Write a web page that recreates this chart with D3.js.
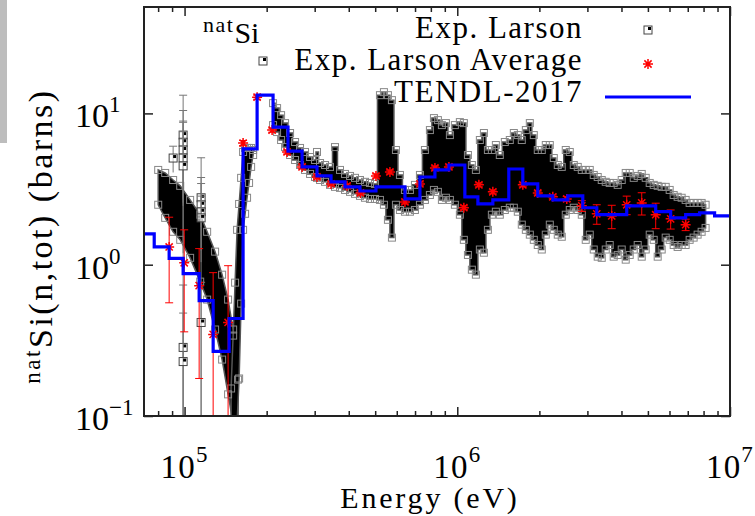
<!DOCTYPE html>
<html>
<head>
<meta charset="utf-8">
<script src="https://cdn.jsdelivr.net/npm/d3@7"></script>
<style>
body { margin: 0; background: #fff; }
svg { display: block; }
</style>
</head>
<body>
<svg width="755" height="516" font-family="'Liberation Serif', 'DejaVu Serif', serif"></svg>
<script>
// axis ticks
var xMajor = [1e5, 1e6, 1e7];
var xMinor = [8e4, 9e4, 2e5, 3e5, 4e5, 5e5, 6e5, 7e5, 8e5, 9e5, 2e6, 3e6, 4e6, 5e6, 6e6, 7e6, 8e6, 9e6];
var xExp = ["5", "6", "7"];
var yMajor = [0.1, 1, 10];
var yExp = ["\u22121", "0", "1"];

// Exp. Larson, low energy falling branch (energy eV, min / max barns)
var larsonAE = [80050, 84900, 90800, 96400, 104800, 114100, 121000, 129400, 137300, 144400, 150700, 157100];
var larsonALo = [2.49, 2.04, 1.65, 1.46, 1.11, 0.773, 0.588, 0.373, 0.236, 0.139, 0.09, 0.09];
var larsonAHi = [4.23, 4.04, 3.63, 3.32, 2.68, 2.14, 1.65, 1.22, 0.859, 0.588, 0.373, 0.174];

// Exp. Larson, rising edge of the big resonance
var larsonBE = [148100, 150700, 153200, 155800, 158500, 161200, 163900, 166700, 169500, 172400, 175400, 178400];
var larsonBLo = [0.09, 0.09, 0.09, 0.09, 0.177, 0.553, 1.70, 2.17, 2.77, 3.47, 4.43, 5.31];
var larsonBHi = [0.152, 0.340, 0.761, 1.70, 2.52, 3.75, 5.56, 5.91, 5.91, 5.91, 5.91, 5.73];

// Exp. Larson, resonance region above 200 keV
var larsonCE = [211100, 218400, 225900, 233600, 243700, 254200, 265100, 276500, 288500, 300900, 305900, 313900,
  327300, 341400, 356100, 371500, 387600, 404300, 421700, 439700, 458600, 478400, 499000, 520500,
  538300, 556800, 575900, 595700, 616200, 642800, 670500, 699300, 729500, 760900, 793600, 821000,
  849000, 878200, 908300, 939500, 979900, 1022000, 1057000, 1094000, 1131000, 1170000, 1210000, 1252000,
  1295000, 1339000, 1385000, 1432000, 1494000, 1558000, 1612000, 1667000, 1724000, 1784000, 1845000, 1908000,
  1973000, 2041000, 2111000, 2184000, 2259000, 2336000, 2416000, 2499000, 2585000, 2674000, 2765000, 2861000,
  2958000, 3060000, 3165000, 3273000, 3386000, 3502000, 3622000, 3746000, 3875000, 4008000, 4146000, 4288000,
  4436000, 4587000, 4746000, 4908000, 5077000, 5251000, 5431000, 5617000, 5810000, 6009000, 6216000, 6427000,
  6648000, 6876000, 7112000, 7356000, 7608000, 7870000, 8138000];
var larsonCLo = [8.37, 7.53, 6.67, 5.99, 5.31, 4.92, 4.56, 4.23, 3.98, 3.80, 3.75, 3.63,
  3.53, 3.37, 3.27, 3.22, 3.12, 3.03, 2.94, 2.85, 2.77, 2.72, 2.72, 2.68,
  2.49, 1.98, 1.51, 2.49, 2.30, 2.24, 2.24, 2.30, 2.49, 2.68, 2.89, 3.12,
  3.03, 2.68, 2.77, 2.68, 2.49, 2.14, 1.46, 1.16, 0.927, 0.859, 1.26, 1.20,
  1.70, 2.14, 2.24, 2.14, 2.30, 2.38, 2.38, 2.24, 1.84, 1.70, 1.58, 1.46,
  1.35, 1.26, 1.58, 1.84, 1.70, 1.58, 1.53, 2.14, 2.30, 2.38, 2.30, 2.14,
  1.46, 1.58, 1.26, 1.13, 1.11, 1.26, 1.35, 1.13, 1.16, 1.26, 1.08, 1.16,
  1.26, 1.35, 1.13, 1.26, 1.58, 1.46, 1.13, 1.26, 1.51, 1.46, 1.35, 1.31,
  1.35, 1.35, 1.46, 1.51, 1.58, 1.65, 1.75];
var larsonCHi = [11.69, 10.84, 9.74, 8.63, 7.42, 6.47, 5.91, 5.56, 5.15, 4.92, 5.56, 4.70,
  4.56, 4.43, 5.99, 4.23, 3.98, 3.86, 3.75, 3.63, 3.53, 3.47, 3.42, 13.20,
  13.82, 13.20, 12.24, 5.73, 3.92, 3.12, 3.12, 3.37, 3.92, 5.73, 7.76, 9.31,
  9.03, 8.37, 8.63, 7.19, 8.37, 8.76, 8.63, 5.31, 4.56, 4.23, 6.67, 7.42,
  5.73, 5.73, 6.18, 5.31, 6.47, 6.67, 7.42, 7.19, 6.67, 7.76, 8.63, 7.19,
  5.73, 5.73, 6.18, 6.18, 5.07, 4.56, 4.43, 5.73, 5.56, 4.56, 4.43, 4.23,
  4.23, 4.23, 3.92, 3.80, 3.63, 3.53, 3.47, 3.47, 3.37, 3.63, 4.04, 4.04,
  3.75, 3.86, 3.98, 3.75, 3.47, 3.37, 3.32, 3.27, 3.27, 3.12, 2.89, 2.81,
  2.77, 2.68, 2.56, 2.56, 2.56, 2.56, 2.49];

// Exp. Larson, isolated low energy points with their uncertainties
var scatterE = [98800, 98800, 98800, 98800, 98800, 98800, 98800, 90800, 115000, 115000, 115000, 115000, 115000];
var scatterV = [7.19, 6.45, 5.73, 5.07, 4.50, 0.284, 0.229, 5.07, 2.77, 2.49, 2.24, 2.04, 0.415];
var scatterErr = [6.0, 4.0, 3.0, 2.5, 4.4, 0.45, 0.25, 1.0, 1.0, 2.6, 1.2, 0.8, 0.35];

// Exp. Larson Average
var avgE = [87800, 99700, 113100, 127300, 144400, 163900, 184500, 209400, 237600, 269700, 305900, 344400,
  394100, 441500, 503300, 566300, 642800, 729500, 828000, 931700, 1057000, 1200000, 1350000, 1739000,
  1973000, 2240000, 2520000, 2861000, 3247000, 3684000, 4181000, 4746000, 5340000, 6059000, 6877000];
var avgV = [1.31, 1.03, 0.727, 0.346, 0.415, 6.37, 12.8, 7.76, 5.56, 4.43, 3.80, 3.42,
  3.32, 2.98, 3.86, 4.10, 2.60, 3.42, 4.36, 4.43, 2.38, 3.37, 3.03, 3.37,
  2.98, 2.81, 2.72, 2.45, 2.17, 2.10, 2.49, 2.56, 2.14, 2.01, 1.84];
var avgErr = [0.75, 0.67, 0.55, 0.54, 0.57, 0.25, 0.4, 0.25, 0.17, 0.13, 0.11, 0.10,
  0.10, 0.09, 0.12, 0.12, 0.08, 0.10, 0.13, 0.13, 0.07, 0.10, 0.09, 0.10,
  0.09, 0.08, 0.10, 0.2, 0.32, 0.37, 0.35, 0.43, 0.41, 0.29, 0.16];

// TENDL-2017 group values (bin start energy)
var tendlE = [70000, 77400, 87800, 98800, 113100, 127300, 145700, 163900, 184500, 211100, 239500, 269700,
  305900, 344400, 387600, 439700, 503300, 642800, 729500, 828000, 931700, 1066000, 1190000, 1350000,
  1545000, 1739000, 1973000, 2240000, 2542000, 2885000, 3247000, 4181000, 5340000, 6059000, 6877000,
  7737000, 8781000, 1e7];
var tendlV = [1.60, 1.31, 1.10, 0.872, 0.579, 0.267, 0.441, 5.82, 13.2, 8.12, 5.64, 4.43,
  3.86, 3.53, 3.27, 3.07, 3.27, 2.72, 3.80, 4.23, 4.56, 2.81, 2.52, 2.68,
  4.29, 3.42, 2.85, 2.68, 2.85, 2.38, 2.14, 2.45, 2.24, 2.04, 2.14,
  2.20, 2.10, 2.10];

var FONT = "Liberation Serif, DejaVu Serif, serif";

var svg = d3.select("svg"),
    margin = {top: 7, right: 25, bottom: 100, left: 144},
    w = +svg.attr("width") - margin.left - margin.right,
    h = +svg.attr("height") - margin.top - margin.bottom;

var xScale = d3.scaleLog().domain([7.1e4, 1e7]).range([0, w]),
    yScale = d3.scaleLog().domain([0.1, 50.5]).range([h, 0]);

// grey strip at the top left corner of the picture
svg.append("rect").attr("x", 0).attr("y", 0).attr("width", 7).attr("height", 143).attr("fill", "#bdbdbd");

var g = svg.append("g")
    .attr("transform", "translate(" + margin.left + "," + margin.top + ")");

g.append("clipPath").attr("id", "clip")
  .append("rect").attr("width", w).attr("height", h);

var plot = g.append("g").attr("clip-path", "url(#clip)");

function zip(es, los, his) {
  return es.map(function(e, i) { return {e: e, lo: los[i], hi: his[i]}; });
}
var segA = zip(larsonAE, larsonALo, larsonAHi),
    segB = zip(larsonBE, larsonBLo, larsonBHi),
    segC = zip(larsonCE, larsonCLo, larsonCHi);

var band = d3.area()
    .x(function(d) { return xScale(d.e); })
    .y0(function(d) { return yScale(d.lo); })
    .y1(function(d) { return yScale(d.hi); });

[[segA, d3.curveLinear], [segB, d3.curveLinear], [segC, d3.curveStep]].forEach(function(s) {
  plot.append("path")
    .datum(s[0])
    .attr("d", band.curve(s[1]))
    .attr("fill", "#000")
    .attr("stroke", "#555")
    .attr("stroke-width", 1.5);
});

// open squares where the data spread ends
var edges = [];
segA.concat(segB, segC).forEach(function(d) {
  edges.push({e: d.e, v: d.lo});
  edges.push({e: d.e, v: d.hi});
});
plot.selectAll(".edge")
  .data(edges)
  .enter().append("rect")
    .attr("class", "edge")
    .attr("x", function(d) { return xScale(d.e) - 3.5; })
    .attr("y", function(d) { return yScale(d.v) - 3.5; })
    .attr("width", 7)
    .attr("height", 7)
    .attr("fill", "none")
    .attr("stroke", "#888")
    .attr("stroke-width", 1);

// isolated points with error bars
var scatter = scatterE.map(function(e, i) { return {e: e, v: scatterV[i], err: scatterErr[i]}; });
var sc = plot.selectAll(".scat").data(scatter).enter().append("g").attr("class", "scat");
sc.append("line")
  .attr("x1", function(d) { return xScale(d.e); })
  .attr("x2", function(d) { return xScale(d.e); })
  .attr("y1", function(d) { return yScale(d.v + d.err); })
  .attr("y2", function(d) { return d.v - d.err > 0 ? yScale(d.v - d.err) : h + 5; })
  .attr("stroke", "#777").attr("stroke-width", 1);
sc.append("line")
  .attr("x1", function(d) { return xScale(d.e) - 4; })
  .attr("x2", function(d) { return xScale(d.e) + 4; })
  .attr("y1", function(d) { return yScale(d.v + d.err); })
  .attr("y2", function(d) { return yScale(d.v + d.err); })
  .attr("stroke", "#777").attr("stroke-width", 1);
sc.append("rect")
  .attr("x", function(d) { return xScale(d.e) - 4; })
  .attr("y", function(d) { return yScale(d.v) - 4; })
  .attr("width", 8).attr("height", 8)
  .attr("fill", "#fff").attr("fill-opacity", 0.6)
  .attr("stroke", "#444").attr("stroke-width", 1);
sc.append("rect")
  .attr("x", function(d) { return xScale(d.e); })
  .attr("y", function(d) { return yScale(d.v) - 3; })
  .attr("width", 3).attr("height", 3)
  .attr("fill", "#000");

// Exp. Larson Average with error bars
var star = "M-5,0H5M0,-5V5M-3.6,-3.6L3.6,3.6M-3.6,3.6L3.6,-3.6";
var avg = avgE.map(function(e, i) { return {e: e, v: avgV[i], err: avgErr[i]}; });
var ag = plot.selectAll(".avg").data(avg).enter().append("g").attr("class", "avg")
  .attr("transform", function(d) { return "translate(" + xScale(d.e) + ",0)"; });
ag.append("line")
  .attr("x1", 0).attr("x2", 0)
  .attr("y1", function(d) { return yScale(d.v + d.err); })
  .attr("y2", function(d) { return d.v - d.err > 0 ? yScale(d.v - d.err) : h + 5; })
  .attr("stroke", "#f00").attr("stroke-width", 1);
[1, -1].forEach(function(sgn) {
  ag.append("line")
    .attr("x1", -4).attr("x2", 4)
    .attr("y1", function(d) { return d.v + sgn * d.err > 0 ? yScale(d.v + sgn * d.err) : h + 5; })
    .attr("y2", function(d) { return d.v + sgn * d.err > 0 ? yScale(d.v + sgn * d.err) : h + 5; })
    .attr("stroke", "#f00").attr("stroke-width", 1);
});
ag.append("path")
  .attr("transform", function(d) { return "translate(0," + yScale(d.v) + ")"; })
  .attr("d", star)
  .attr("fill", "none").attr("stroke", "#f00").attr("stroke-width", 1.5);

// TENDL-2017
var tendl = tendlE.map(function(e, i) { return {e: e, v: tendlV[i]}; });
plot.append("path")
  .datum(tendl)
  .attr("d", d3.line()
    .x(function(d) { return xScale(d.e); })
    .y(function(d) { return yScale(d.v); })
    .curve(d3.curveStepAfter))
  .attr("fill", "none")
  .attr("stroke", "#0000ff")
  .attr("stroke-width", 3.2);

// ticks, pointing inwards on all four sides
function ticks(axis, vals, size, transform) {
  var a = g.append("g").attr("transform", transform)
    .call(axis.tickValues(vals).tickSize(size).tickFormat(""));
  a.select(".domain").remove();
  a.selectAll("line").attr("stroke", "#222").attr("stroke-width", 1.5);
}
ticks(d3.axisBottom(xScale), xMajor, -9, "translate(0," + h + ")");
ticks(d3.axisBottom(xScale), xMinor, -5, "translate(0," + h + ")");
ticks(d3.axisTop(xScale), xMajor, -9, "translate(0,0)");
ticks(d3.axisTop(xScale), xMinor, -5, "translate(0,0)");
ticks(d3.axisLeft(yScale), yMajor, -9, "translate(0,0)");
ticks(d3.axisRight(yScale), yMajor, -9, "translate(" + w + ",0)");

g.append("rect")
  .attr("width", w).attr("height", h)
  .attr("fill", "none").attr("stroke", "#222").attr("stroke-width", 2);

// tick labels
var xl = g.selectAll(".xlab").data(xMajor).enter().append("text")
  .attr("class", "xlab")
  .attr("x", function(d) { return xScale(d); })
  .attr("y", h + 62)
  .attr("text-anchor", "middle")
  .attr("font-family", FONT)
  .attr("font-size", 33)
  .attr("letter-spacing", 1.2);
xl.append("tspan").text("10");
xl.append("tspan").attr("dy", -16).attr("font-size", 23).text(function(d, i) { return xExp[i]; });

var yl = g.selectAll(".ylab").data(yMajor).enter().append("text")
  .attr("class", "ylab")
  .attr("x", -69)
  .attr("y", function(d) { return yScale(d) + 14; })
  .attr("font-family", FONT)
  .attr("font-size", 34);
yl.append("tspan").text("10");
yl.append("tspan").attr("dy", -15).attr("font-size", 23).text(function(d, i) { return yExp[i]; });

// axis titles
svg.append("text")
  .attr("x", 430).attr("y", 508)
  .attr("text-anchor", "middle")
  .attr("font-family", FONT)
  .attr("font-size", 30)
  .attr("letter-spacing", 2.8)
  .text("Energy (eV)");

var yt = svg.append("text")
  .attr("transform", "translate(52,236) rotate(-90)")
  .attr("text-anchor", "middle")
  .attr("font-family", FONT)
  .attr("font-size", 34)
  .attr("letter-spacing", 2.5);
yt.append("tspan").attr("dy", -12).attr("font-size", 23).text("nat");
yt.append("tspan").attr("dy", 12).text("Si(n,tot) (barns)");

// label and legend
var tt = svg.append("text").attr("x", 203).attr("y", 43)
  .attr("font-family", FONT).attr("font-size", 30);
tt.append("tspan").attr("dy", -11).attr("font-size", 22).attr("letter-spacing", 1.5).text("nat");
tt.append("tspan").attr("dy", 11).text("Si");

var legendNames = ["Exp. Larson", "Exp. Larson Average", "TENDL-2017"];
svg.selectAll(".leg").data(legendNames).enter().append("text")
  .attr("class", "leg")
  .attr("x", 583)
  .attr("y", function(d, i) { return 38 + i * 32; })
  .attr("text-anchor", "end")
  .attr("font-family", FONT)
  .attr("font-size", 31)
  .attr("letter-spacing", 1.5)
  .text(function(d) { return d; });

[[648, 30], [263, 61]].forEach(function(p) {
  svg.append("rect").attr("x", p[0] - 4).attr("y", p[1] - 4).attr("width", 8).attr("height", 8)
    .attr("fill", "#fff").attr("stroke", "#444").attr("stroke-width", 1);
  svg.append("rect").attr("x", p[0]).attr("y", p[1] - 3).attr("width", 3).attr("height", 3).attr("fill", "#000");
});
svg.append("path").attr("transform", "translate(648,64)").attr("d", star)
  .attr("fill", "none").attr("stroke", "#f00").attr("stroke-width", 1.5);
svg.append("line").attr("x1", 605).attr("x2", 691).attr("y1", 97).attr("y2", 97)
  .attr("stroke", "#0000ff").attr("stroke-width", 3.2);
</script>
</body>
</html>
